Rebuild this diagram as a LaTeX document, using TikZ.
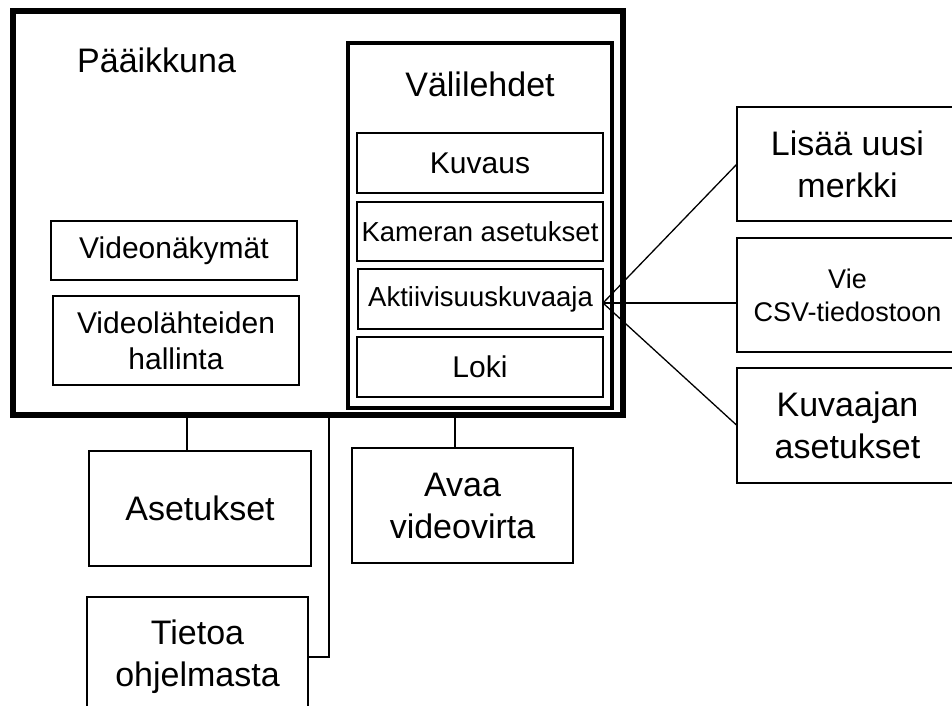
\documentclass[tikz,border=0pt]{standalone}
\usepackage{fontspec}
\setmainfont{Liberation Sans}
\newcommand\bigf{\fontsize{34}{42}\selectfont}
\newcommand\midf{\fontsize{30}{36}\selectfont}
\newcommand\smlf{\fontsize{27.5}{33}\selectfont}
\begin{document}
\begin{tikzpicture}[x=1pt,y=-1pt,
  frame/.style={draw, inner sep=0pt, outer sep=0pt},
  box/.style={frame, line width=2pt, align=center, font=\bigf},
  inbox/.style={frame, line width=1.3pt, align=center, font=\midf},
  conn/.style={draw, line width=1.3pt}]
\clip (0,0) rectangle (952,705);
\fill[white] (0,0) rectangle (952,705);
% main window
\node[frame, line width=6pt, minimum width=610pt, minimum height=404pt] (main) at (318,213) {};
\node[anchor=base west, inner sep=0pt, font=\bigf] (paa) at (77,72) {Pääikkuna};
% tabs
\node[frame, line width=3.5pt, minimum width=264pt, minimum height=365pt] (tabs) at (480,225.5) {};
\node[anchor=base, inner sep=0pt, font=\bigf] (val) at (480,96) {Välilehdet};
\node[inbox, minimum width=246pt, minimum height=60pt] (kuv) at (480,163) {Kuvaus};
\node[inbox, minimum width=246pt, minimum height=59pt, font=\smlf] (kam) at (480,231.5) {Kameran asetukset};
\node[inbox, minimum width=245pt, minimum height=60pt, font=\smlf] (akt) at (480.5,299) {Aktiivisuuskuvaaja};
\node[inbox, minimum width=246pt, minimum height=60pt] (loki) at (480,367) {Loki};
% left
\node[inbox, minimum width=246pt, minimum height=59pt] (vnak) at (174,250.5) {Videonäkymät};
\node[inbox, minimum width=246pt, minimum height=89pt] (vlah) at (176,340.5) {Videolähteiden\\hallinta};
% right
\node[box, minimum width=221pt, minimum height=114pt] (lisaa) at (847.5,164) {Lisää uusi\\merkki};
\node[box, minimum width=221pt, minimum height=114pt, font=\fontsize{27}{33}\selectfont] (vie) at (847.5,295) {Vie\\CSV-tiedostoon};
\node[box, minimum width=221pt, minimum height=115pt] (kuva) at (847.5,425.5) {Kuvaajan\\asetukset};
% bottom
\node[box, minimum width=222pt, minimum height=115pt] (aset) at (200,508.5) {Asetukset};
\node[box, minimum width=221pt, minimum height=115pt] (avaa) at (462.5,505.5) {Avaa\\videovirta};
\node[box, minimum width=221pt, minimum height=120pt] (tiet) at (197.5,657) {Tietoa\\ohjelmasta};
% connectors
\coordinate (c1) at (187,0);
\coordinate (c2) at (329,0);
\coordinate (c3) at (455,0);
\coordinate (c4) at (0,303);
\draw[conn] (main.south -| c1) -- (aset.north -| c1);
\draw[conn] (main.south -| c2) |- (tiet.east);
\draw[conn] (main.south -| c3) -- (avaa.north -| c3);
\draw[conn] (akt.east |- c4) -- (lisaa.west);
\draw[conn] (akt.east |- c4) -- (vie.west |- c4);
\draw[conn] (akt.east |- c4) -- (kuva.west);
\end{tikzpicture}
\end{document}
